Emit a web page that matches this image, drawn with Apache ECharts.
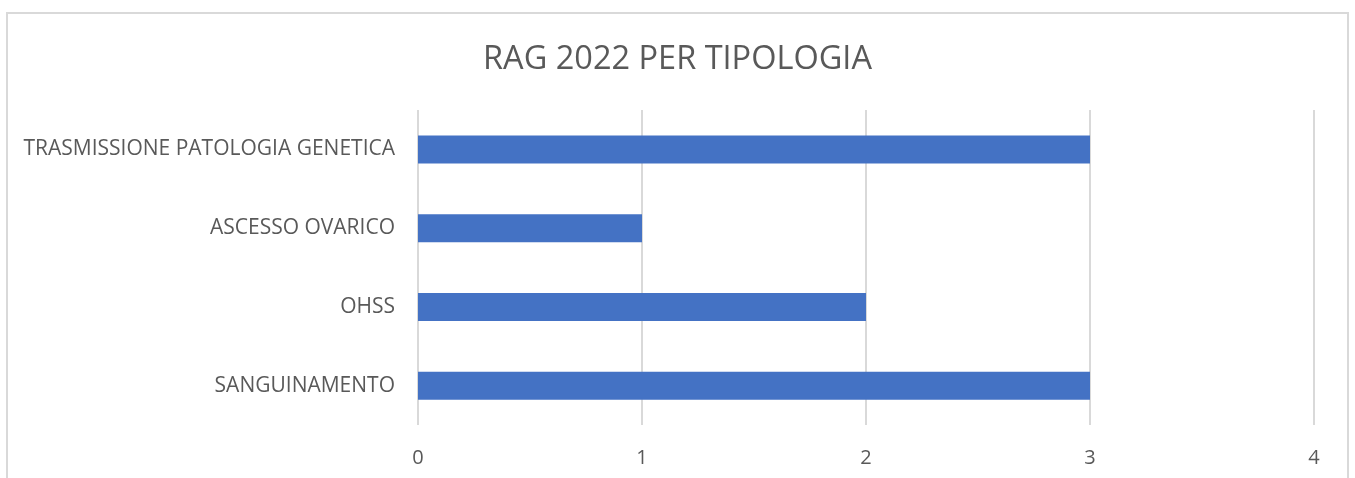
<!DOCTYPE html>
<html lang="it">
<head>
  <meta charset="UTF-8">
  <title>RAG 2022 PER TIPOLOGIA</title>
  <style>
    * { margin: 0; padding: 0; box-sizing: border-box; }
    body { background: #fff; width: 1355px; height: 478px; overflow: hidden; }
    #chart { width: 1355px; height: 478px; }
  </style>
</head>
<body>
  <div id="chart"></div>
  <script src="https://cdn.jsdelivr.net/npm/echarts@6/dist/echarts.min.js"></script>
  <script>
    // dati
    const categories = ['SANGUINAMENTO', 'OHSS', 'ASCESSO OVARICO', 'TRASMISSIONE PATOLOGIA GENETICA'];
    const values = [3, 2, 1, 3];
    const xTicks = [0, 1, 2, 3, 4];

    const chart = echarts.init(document.getElementById('chart'));
    const textColor = '#595959';
    const font = 'Open Sans, sans-serif';

    chart.setOption({
      animation: false,
      graphic: [{
        type: 'rect',
        shape: { x: 7, y: 13, width: 1341, height: 480 },
        style: { fill: 'none', stroke: '#d9d9d9', lineWidth: 2 },
        silent: true
      }],
      title: {
        text: 'RAG 2022 PER TIPOLOGIA',
        left: 'center',
        top: 38,
        textStyle: { color: textColor, fontSize: 32.5, fontWeight: 'normal', fontFamily: font }
      },
      grid: { left: 418, right: 41, top: 110, height: 315, containLabel: false },
      xAxis: {
        type: 'value',
        min: xTicks[0],
        max: xTicks[xTicks.length - 1],
        interval: 1,
        axisLine: { show: false },
        axisTick: { show: false },
        axisLabel: { color: textColor, fontSize: 20, fontFamily: font, margin: 23 },
        splitLine: { lineStyle: { color: '#d9d9d9', width: 2 } }
      },
      yAxis: {
        type: 'category',
        data: categories,
        axisLine: { show: false },
        axisTick: { show: false },
        axisLabel: { color: textColor, fontSize: 21, fontFamily: font, margin: 23, padding: [5, 0, 0, 0] }
      },
      series: [{
        type: 'bar',
        data: values,
        barWidth: 28,
        itemStyle: { color: '#4472c4' }
      }]
    });
  </script>
</body>
</html>
